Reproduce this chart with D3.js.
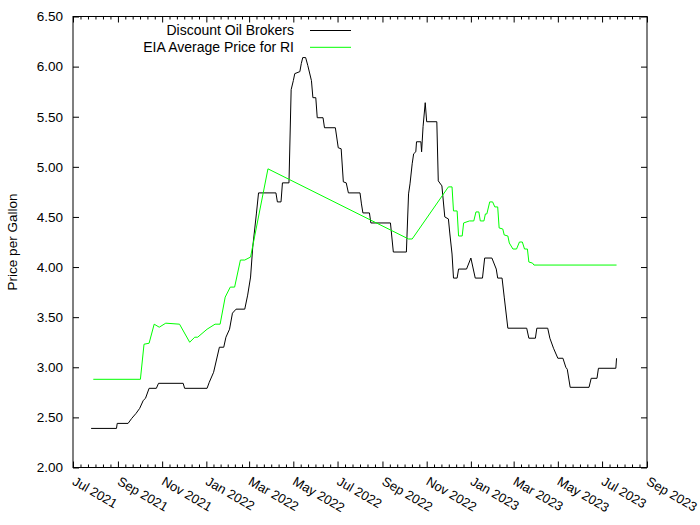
<!DOCTYPE html>
<html><head><meta charset="utf-8">
<script src="https://cdn.jsdelivr.net/npm/d3@7"></script>
<style>
body{margin:0;background:#fff}
svg{display:block}
text{font-family:"Liberation Sans",Arial,sans-serif;font-size:14px;fill:#000}
</style>
</head><body>
<svg id="chart" width="700" height="525"></svg>
<script>
// ---- data ----
const dobDates = ["2021-07-26","2021-08-30","2021-08-31","2021-09-15","2021-09-20","2021-09-26","2021-10-01","2021-10-06","2021-10-09","2021-10-14","2021-10-24","2021-10-27","2021-11-30","2021-12-02","2022-01-02","2022-01-05","2022-01-11","2022-01-19","2022-01-25","2022-01-28","2022-02-02","2022-02-06","2022-02-11","2022-02-23","2022-02-27","2022-03-03","2022-03-06","2022-03-11","2022-03-14","2022-04-07","2022-04-09","2022-04-14","2022-04-16","2022-04-25","2022-04-28","2022-05-01","2022-05-03","2022-05-10","2022-05-12","2022-05-14","2022-05-18","2022-05-21","2022-05-26","2022-05-28","2022-06-01","2022-06-03","2022-06-11","2022-06-13","2022-06-28","2022-07-02","2022-07-06","2022-07-09","2022-07-13","2022-07-16","2022-08-01","2022-08-03","2022-08-05","2022-08-14","2022-08-16","2022-09-12","2022-09-16","2022-10-04","2022-10-07","2022-10-09","2022-10-12","2022-10-14","2022-10-17","2022-10-18","2022-10-24","2022-10-25","2022-10-27","2022-10-30","2022-11-01","2022-11-15","2022-11-17","2022-11-22","2022-11-26","2022-12-01","2022-12-03","2022-12-06","2022-12-08","2022-12-13","2022-12-15","2022-12-26","2023-01-01","2023-01-07","2023-01-17","2023-01-20","2023-01-30","2023-02-05","2023-02-07","2023-02-13","2023-02-16","2023-02-21","2023-03-19","2023-03-22","2023-03-31","2023-04-02","2023-04-17","2023-04-20","2023-04-25","2023-05-01","2023-05-08","2023-05-12","2023-05-14","2023-05-18","2023-06-13","2023-06-16","2023-06-24","2023-06-26","2023-07-20","2023-07-21"];
const dobPrices = [2.39,2.39,2.44,2.44,2.49,2.54,2.59,2.67,2.69,2.79,2.79,2.84,2.84,2.79,2.79,2.85,2.95,3.20,3.20,3.30,3.38,3.54,3.58,3.58,3.72,3.90,4.20,4.53,4.74,4.74,4.65,4.65,4.84,4.84,5.77,5.86,5.93,5.95,6.03,6.09,6.09,6.01,5.86,5.69,5.69,5.49,5.49,5.39,5.39,5.19,5.18,4.85,4.84,4.74,4.74,4.63,4.54,4.54,4.44,4.44,4.15,4.15,4.73,4.83,5.03,5.13,5.15,5.25,5.25,5.15,5.40,5.64,5.45,5.45,4.86,4.81,4.50,4.48,4.33,4.13,3.89,3.89,3.98,3.98,4.09,3.89,3.89,4.09,4.09,3.98,3.89,3.89,3.70,3.39,3.39,3.29,3.29,3.39,3.39,3.29,3.19,3.09,3.09,3.00,2.98,2.80,2.80,2.89,2.89,2.99,2.99,3.09];

const eiaDates = ["2021-07-29","2021-10-02","2021-10-07","2021-10-14","2021-10-21","2021-10-28","2021-11-06","2021-11-25","2021-12-09","2021-12-16","2021-12-20","2022-01-02","2022-01-13","2022-01-20","2022-01-27","2022-02-03","2022-02-09","2022-02-17","2022-02-23","2022-03-03","2022-03-27","2022-10-07","2022-10-12","2022-12-01","2022-12-06","2022-12-08","2022-12-13","2022-12-15","2022-12-20","2022-12-22","2022-12-30","2023-01-05","2023-01-08","2023-01-12","2023-01-14","2023-01-19","2023-01-21","2023-01-23","2023-01-27","2023-01-31","2023-02-03","2023-02-07","2023-02-09","2023-02-14","2023-02-16","2023-02-21","2023-02-23","2023-02-28","2023-03-05","2023-03-09","2023-03-13","2023-03-16","2023-03-20","2023-03-22","2023-03-27","2023-03-29","2023-07-21"];
const eiaPrices = [2.88,2.88,3.23,3.24,3.43,3.40,3.44,3.43,3.25,3.30,3.30,3.38,3.43,3.43,3.70,3.80,3.80,4.07,4.07,4.10,4.98,4.28,4.28,4.80,4.80,4.56,4.56,4.31,4.31,4.44,4.46,4.46,4.55,4.55,4.46,4.46,4.53,4.53,4.65,4.65,4.60,4.60,4.39,4.38,4.32,4.31,4.24,4.18,4.18,4.25,4.25,4.18,4.18,4.05,4.04,4.02,4.02];

const xTickDates = ["2021-07-01","2021-09-01","2021-11-01","2022-01-01","2022-03-01","2022-05-01","2022-07-01","2022-09-01","2022-11-01","2023-01-01","2023-03-01","2023-05-01","2023-07-01","2023-09-01"];
const yTickValues = [2.00,2.50,3.00,3.50,4.00,4.50,5.00,5.50,6.00,6.50];
const seriesNames = ["Discount Oil Brokers","EIA Average Price for RI"];
const yAxisTitle = "Price per Gallon";

// ---- drawing ----
const parse = d3.timeParse("%Y-%m-%d");
const L = 73, R = 647, T = 16.5, B = 467.5;
const svg = d3.select("#chart");
const FONT = '"Liberation Sans",Arial,sans-serif';

const xTicks = xTickDates.map(parse);
const x = d3.scaleTime().domain([xTicks[0], xTicks[xTicks.length-1]]).range([L, R]);
const y = d3.scaleLinear().domain([yTickValues[0], yTickValues[yTickValues.length-1]]).range([B, T]);

// minor ticks: 5 between each pair of majors
const minor = [];
for (let i = 0; i < xTicks.length - 1; i++) {
  const a = +xTicks[i], b = +xTicks[i+1];
  for (let k = 1; k < 6; k++) minor.push(new Date(a + (b - a) * k / 6));
}

function styleAxis(g) {
  g.select(".domain").remove();
  g.selectAll(".tick line").attr("stroke", "#000").attr("stroke-width", 1);
}

// bottom major
const gb = svg.append("g").attr("transform", `translate(0,${B})`)
  .call(d3.axisBottom(x).tickValues(xTicks).tickSize(-6).tickFormat(d3.timeFormat("%b %Y")));
styleAxis(gb);
gb.selectAll(".tick text")
  .attr("y", 0).attr("dy", 0).attr("x", 0)
  .attr("text-anchor", "start")
  .attr("transform", "translate(-2,16.5) rotate(30)")
  .style("font-size", "13px").style("font-family", FONT);
// bottom minor
const gbm = svg.append("g").attr("transform", `translate(0,${B})`)
  .call(d3.axisBottom(x).tickValues(minor).tickSize(-3).tickFormat(""));
styleAxis(gbm);
// top major/minor
const gt = svg.append("g").attr("transform", `translate(0,${T})`)
  .call(d3.axisTop(x).tickValues(xTicks).tickSize(-6).tickFormat(""));
styleAxis(gt);
const gtm = svg.append("g").attr("transform", `translate(0,${T})`)
  .call(d3.axisTop(x).tickValues(minor).tickSize(-3).tickFormat(""));
styleAxis(gtm);

// left
const gl = svg.append("g").attr("transform", `translate(${L},0)`)
  .call(d3.axisLeft(y).tickValues(yTickValues).tickSize(-6).tickPadding(10).tickFormat(d3.format(".2f")));
styleAxis(gl);
gl.selectAll(".tick text").style("font-size", "13.5px").style("font-family", FONT);
// right
const gr = svg.append("g").attr("transform", `translate(${R},0)`)
  .call(d3.axisRight(y).tickValues(yTickValues).tickSize(-6).tickFormat(""));
styleAxis(gr);

// border
svg.append("rect").attr("x", L).attr("y", T).attr("width", R - L).attr("height", B - T)
  .attr("fill", "none").attr("stroke", "#000").attr("stroke-width", 1);

// y title
svg.append("text").attr("transform", `translate(17,${(T + B) / 2}) rotate(-90)`)
  .attr("text-anchor", "middle").style("font-size", "13.5px").text(yAxisTitle);

// lines
const line = d3.line().x(d => x(d[0])).y(d => y(d[1]));
const dob = dobDates.map((d, i) => [parse(d), dobPrices[i]]);
const eia = eiaDates.map((d, i) => [parse(d), eiaPrices[i]]);
const colors = ["#000000", "#00ff00"];
[dob, eia].forEach((s, i) => {
  svg.append("path").datum(s).attr("d", line).attr("fill", "none")
    .attr("stroke", colors[i]).attr("stroke-width", 1).attr("stroke-linejoin", "miter");
});

// legend
seriesNames.forEach((n, i) => {
  const ly = 30.5 + i * 16.8;
  svg.append("text").attr("x", 294).attr("y", ly + 4.7).attr("text-anchor", "end").text(n);
  svg.append("line").attr("x1", 310).attr("x2", 351).attr("y1", ly).attr("y2", ly)
    .attr("stroke", colors[i]).attr("stroke-width", 1);
});
</script>
</body></html>
